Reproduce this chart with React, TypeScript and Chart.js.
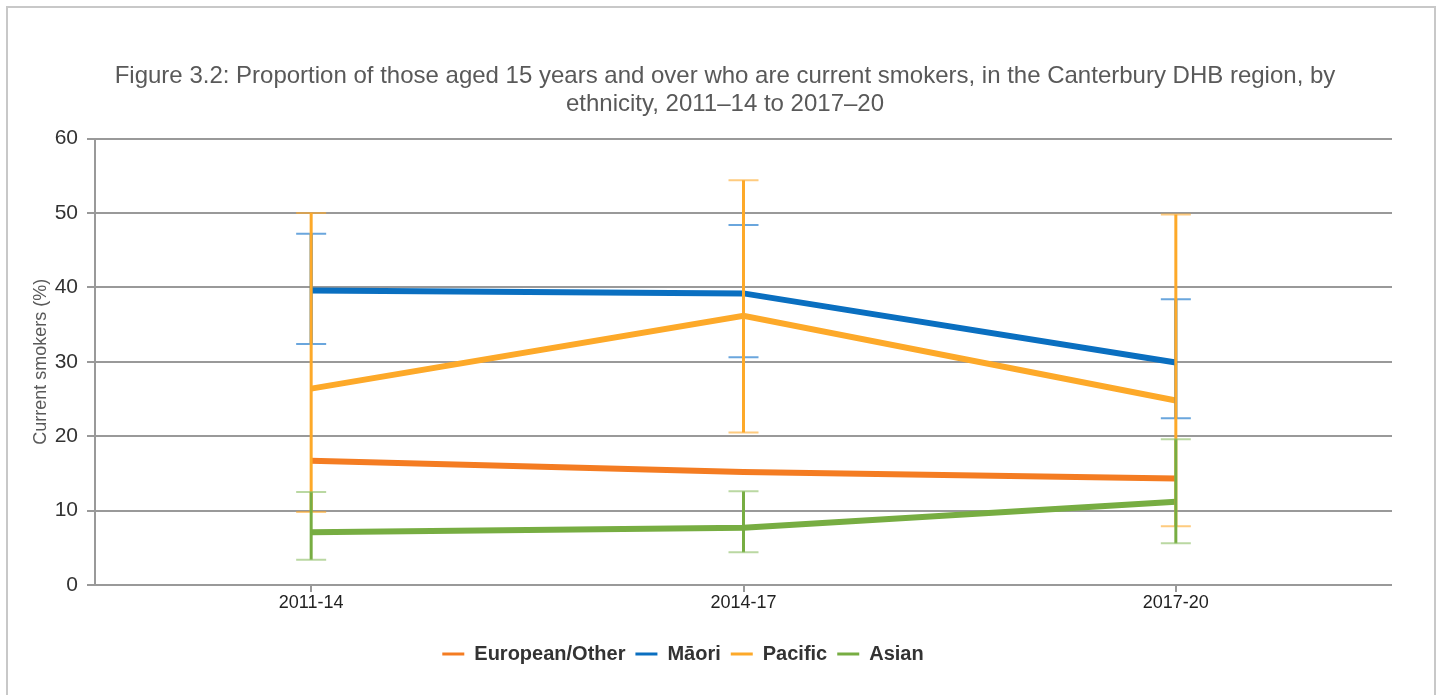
import React, { useEffect, useRef } from 'react';
import { Chart, registerables } from 'chart.js';

Chart.register(...registerables);

const periods = ['2011-14', '2014-17', '2017-20'];
const seriesNames = ['European/Other', 'Māori', 'Pacific', 'Asian'];
const european = [16.7, 15.2, 14.3];
const maori = [39.6, 39.2, 29.9];
const maoriLow = [32.4, 30.6, 22.4];
const maoriHigh = [47.2, 48.4, 38.4];
const pacific = [26.4, 36.2, 24.8];
const pacificLow = [9.8, 20.5, 7.9];
const pacificHigh = [50.0, 54.4, 49.8];
const asian = [7.1, 7.7, 11.2];
const asianLow = [3.4, 4.4, 5.6];
const asianHigh = [12.5, 12.6, 19.6];
const yMin = 0;
const yMax = 60;
const yStep = 10;

const titleLines = [
  'Figure 3.2: Proportion of those aged 15 years and over who are current smokers, in the Canterbury DHB region, by',
  'ethnicity, 2011–14 to 2017–20',
];
const yTitle = 'Current smokers (%)';

const FONT = '"Liberation Sans", Arial, sans-serif';

const colors = {
  european: '#F47C22',
  maori: '#0A6FC0',
  pacific: '#FDA929',
  asian: '#77AD42',
};
const capColors = {
  maori: 'rgba(80,150,215,0.85)',
  pacific: 'rgba(253,169,41,0.6)',
  asian: 'rgba(140,190,100,0.6)',
};

const errorBarPlugin = {
  id: 'errorBars',
  afterDatasetsDraw(chart: any) {
    const ctx = chart.ctx;
    const xs = chart.scales.x;
    const ys = chart.scales.y;
    chart.data.datasets.forEach((ds: any) => {
      if (!ds.errLow || !ds.errHigh) return;
      ds.errLow.forEach((lo: number, i: number) => {
        const hi = ds.errHigh[i];
        const x = xs.getPixelForValue(i);
        const yLo = ys.getPixelForValue(lo);
        const yHi = ys.getPixelForValue(hi);
        ctx.save();
        ctx.strokeStyle = ds.borderColor;
        ctx.lineWidth = 3;
        ctx.beginPath();
        ctx.moveTo(x, yLo);
        ctx.lineTo(x, yHi);
        ctx.stroke();
        ctx.strokeStyle = ds.capColor;
        ctx.lineWidth = 2;
        ctx.beginPath();
        ctx.moveTo(x - 15, yLo);
        ctx.lineTo(x + 15, yLo);
        ctx.moveTo(x - 15, yHi);
        ctx.lineTo(x + 15, yHi);
        ctx.stroke();
        ctx.restore();
      });
    });
  },
};

const shiftPlugin = {
  id: 'blockShift',
  afterLayout(chart: any) {
    if (chart.legend) {
      chart.legend.left -= 17;
      chart.legend.right -= 17;
    }
    if (chart.titleBlock) {
      chart.titleBlock.left += 25;
      chart.titleBlock.right += 25;
    }
  },
};

export default function App() {
  const ref = useRef<HTMLCanvasElement | null>(null);

  useEffect(() => {
    if (!ref.current) return;
    const chart = new Chart(ref.current, {
      type: 'line',
      data: {
        labels: periods,
        datasets: [
          {
            label: seriesNames[0],
            data: european,
            borderColor: colors.european,
            backgroundColor: colors.european,
            borderWidth: 6,
            pointRadius: 0,
            tension: 0,
          },
          {
            label: seriesNames[1],
            data: maori,
            borderColor: colors.maori,
            backgroundColor: colors.maori,
            borderWidth: 6,
            pointRadius: 0,
            tension: 0,
            errLow: maoriLow,
            errHigh: maoriHigh,
            capColor: capColors.maori,
          } as any,
          {
            label: seriesNames[2],
            data: pacific,
            borderColor: colors.pacific,
            backgroundColor: colors.pacific,
            borderWidth: 6,
            pointRadius: 0,
            tension: 0,
            errLow: pacificLow,
            errHigh: pacificHigh,
            capColor: capColors.pacific,
          } as any,
          {
            label: seriesNames[3],
            data: asian,
            borderColor: colors.asian,
            backgroundColor: colors.asian,
            borderWidth: 6,
            pointRadius: 0,
            tension: 0,
            errLow: asianLow,
            errHigh: asianHigh,
            capColor: capColors.asian,
          } as any,
        ],
      },
      options: {
        animation: false,
        responsive: false,
        devicePixelRatio: 1,
        layout: { padding: { left: 0, right: 42, top: 0, bottom: 21 } },
        plugins: {
          tooltip: { enabled: false },
          title: {
            display: true,
            text: titleLines,
            color: '#595959',
            font: { family: FONT, size: 24, weight: 'normal', lineHeight: 1.18 },
            padding: { top: 54, bottom: 20 },
          },
          legend: {
            display: true,
            position: 'bottom',
            labels: {
              boxWidth: 22,
              boxHeight: 3,
              padding: 10,
              color: '#333333',
              font: { family: FONT, size: 20, weight: 'bold' },
              generateLabels: (c: any) =>
                c.data.datasets.map((ds: any, i: number) => ({
                  text: ds.label,
                  fillStyle: ds.borderColor,
                  strokeStyle: ds.borderColor,
                  lineWidth: 0,
                  hidden: false,
                  datasetIndex: i,
                  fontColor: '#333333',
                })),
            },
          },
        },
        scales: {
          x: {
            type: 'category',
            offset: true,
            afterFit: (s: any) => {
              s.height = 49;
            },
            grid: {
              display: true,
              drawOnChartArea: false,
              drawTicks: true,
              tickLength: 7,
              offset: false,
              color: '#999999',
              lineWidth: 2,
            },
            border: { display: false },
            ticks: {
              color: '#222222',
              padding: 0,
              font: { family: FONT, size: 18 },
              maxRotation: 0,
            },
          },
          y: {
            min: yMin,
            max: yMax,
            afterFit: (s: any) => {
              s.width = 87;
            },
            ticks: {
              stepSize: yStep,
              color: '#333333',
              padding: 9,
              font: { family: FONT, size: 21 },
            },
            grid: {
              color: '#999999',
              lineWidth: 2,
              tickLength: 8,
              drawTicks: true,
            },
            border: { display: true, color: '#999999', width: 2 },
            title: {
              display: true,
              text: yTitle,
              color: '#595959',
              font: { family: FONT, size: 18 },
              padding: { top: 22, bottom: 0 },
            },
          },
        },
      },
      plugins: [errorBarPlugin, shiftPlugin],
    } as any);
    return () => chart.destroy();
  }, []);

  return (
    <div
      style={{
        position: 'absolute',
        left: 6,
        top: 6,
        width: 1426,
        height: 700,
        border: '2px solid #c8c8c8',
        background: '#ffffff',
      }}
    >
      <canvas ref={ref} width={1426} height={687} style={{ display: 'block', width: 1426, height: 687 }} />
    </div>
  );
}
